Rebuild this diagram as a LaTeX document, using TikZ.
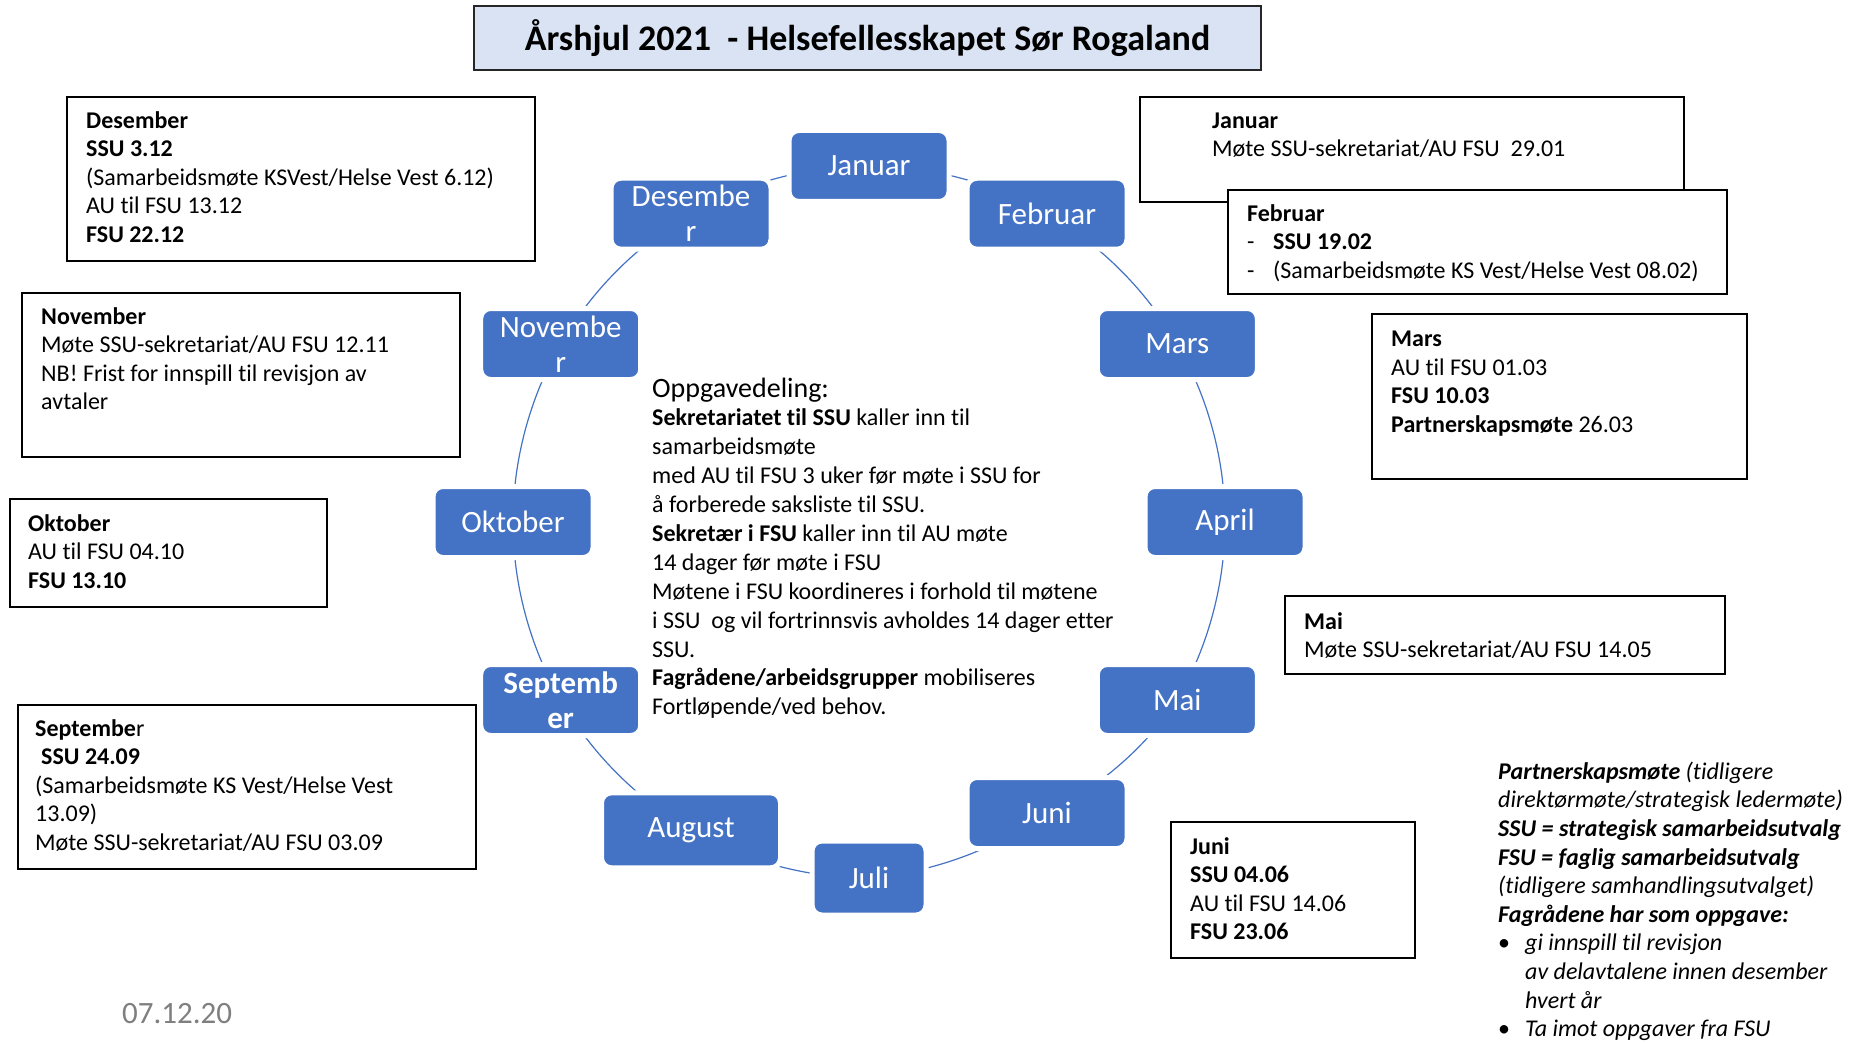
\documentclass[tikz,border=0pt]{standalone}
\usepackage{fontspec}
\setmainfont[Ligatures=NoCommon]{Carlito}
\definecolor{mblue}{HTML}{4472C4}
\definecolor{tblue}{HTML}{DAE3F3}
\definecolor{dategray}{HTML}{7F7F7F}
\newcommand\fst{\rule{0pt}{20pt}}
\pgfdeclarelayer{background}
\pgfsetlayers{background,main}
\begin{document}
\begin{tikzpicture}[x=1pt,y=-1pt,
  month/.style={rectangle, rounded corners=10pt, fill=mblue, draw=white, line width=5pt, text=white,
    minimum width=160pt, minimum height=71pt, inner sep=0pt, align=center,
    font=\fontsize{31}{35}\selectfont},
  infobox/.style={draw=black, line width=2.2pt, fill=white, inner sep=0pt, anchor=north west},
  txt/.style={anchor=north west, inner sep=0pt, align=left, font=\fontsize{24}{28.5}\selectfont},
  link/.style={draw=mblue, line width=1.2pt, looseness=0.86}]
\useasboundingbox (0,0) rectangle (1852,1043);

% title
\node[draw=black!85, line width=2.5pt, fill=tblue, minimum width=787pt, minimum height=64pt,
  inner sep=0pt, font=\fontsize{36}{40}\selectfont\bfseries] (title) at (867.5,38)
  {Årshjul 2021\ \ - Helsefellesskapet Sør Rogaland};

% months
\node[month] (jan) at (869,166) {Januar};
\node[month] (feb) at (1047,213.7) {Februar};
\node[month] (mar) at (1177.3,344) {Mars};
\node[month] (apr) at (1225,522) {April};
\node[month] (mai) at (1177.3,700) {Mai};
\node[month] (jun) at (1047,813) {Juni};
\node[month, minimum width=114pt, minimum height=74pt] (jul) at (869,878) {Juli};
\node[month, minimum width=179pt, minimum height=75pt] (aug) at (691,830.3) {August};
\node[month, font=\fontsize{31}{35}\selectfont\bfseries] (sep) at (560.7,700) {Septemb\\er};
\node[month] (okt) at (513,522) {Oktober};
\node[month] (nov) at (560.7,344) {Novembe\\r};
\node[month] (des) at (691,213.7) {Desembe\\r};

\begin{pgfonlayer}{background}
\fill[white] (0,0) rectangle (1852,1043);
\foreach \a/\b in {jan/feb,feb/mar,mar/apr,apr/mai,mai/jun,jun/jul,jul/aug,aug/sep,sep/okt,okt/nov,nov/des,des/jan}
  \draw[link] (\a.center) to[bend left=15] (\b.center);
\end{pgfonlayer}

% center text
\node[anchor=base west, inner sep=0pt, font=\fontsize{28}{32}\selectfont] (opp) at (652,397) {Oppgavedeling:};
\node[txt, font=\fontsize{24}{28.9}\selectfont] (body) at (652,405.6) {\fst\textbf{Sekretariatet til SSU} kaller inn til\\
samarbeidsmøte\\
med AU til FSU 3 uker før møte i SSU for\\
å forberede saksliste til SSU.\\
\textbf{Sekretær i FSU} kaller inn til AU møte\\
14 dager før møte i FSU\\
Møtene i FSU koordineres i forhold til møtene\\
i SSU\ \ og vil fortrinnsvis avholdes 14 dager etter\\
SSU.\\
\textbf{Fagrådene/arbeidsgrupper} mobiliseres\\
Fortløpende/ved behov.};

% info boxes left
\node[infobox, minimum width=468pt, minimum height=164pt] (bdes) at (66,96) {};
\node[txt] (tdes) at (86,108) {\fst\textbf{Desember}\\ \textbf{SSU 3.12}\\ (Samarbeidsmøte KSVest/Helse Vest 6.12)\\ AU til FSU 13.12\\ \textbf{FSU 22.12}};

\node[infobox, minimum width=438pt, minimum height=164pt] (bnov) at (21,292) {};
\node[txt] (tnov) at (41,304) {\fst\textbf{November}\\ Møte SSU-sekretariat/AU FSU 12.11\\ NB! Frist for innspill til revisjon av\\ avtaler};

\node[infobox, minimum width=317pt, minimum height=108pt] (bokt) at (9,498) {};
\node[txt] (tokt) at (28,511) {\fst\textbf{Oktober}\\ AU til FSU 04.10\\ \textbf{FSU 13.10}};

\node[infobox, minimum width=458pt, minimum height=164pt] (bsep) at (17,704) {};
\node[txt] (tsep) at (35,716) {\fst\textbf{Septembe}r\\ \hspace*{6pt}\textbf{SSU 24.09}\\ (Samarbeidsmøte KS Vest/Helse Vest\\ 13.09)\\ Møte SSU-sekretariat/AU FSU 03.09};

% info boxes right
\node[infobox, minimum width=544pt, minimum height=105pt] (bjan) at (1139,96) {};
\node[txt] (tjan) at (1212,108) {\fst\textbf{Januar}\\ Møte SSU-sekretariat/AU FSU\ \ 29.01};

\node[infobox, minimum width=499pt, minimum height=104pt] (bfeb) at (1227,189) {};
\node[txt] (tfeb) at (1247,201) {\fst\textbf{Februar}\\ \makebox[26pt][l]{-}\textbf{SSU 19.02}\\ \makebox[26pt][l]{-}(Samarbeidsmøte KS Vest/Helse Vest 08.02)};

\node[infobox, minimum width=375pt, minimum height=165pt] (bmar) at (1371,313) {};
\node[txt] (tmar) at (1391,326.5) {\fst\textbf{Mars}\\ AU til FSU 01.03\\ \textbf{FSU 10.03}\\ \textbf{Partnerskapsmøte} 26.03};

\node[infobox, minimum width=440pt, minimum height=78pt] (bmai) at (1284,595) {};
\node[txt] (tmai) at (1304,609) {\fst\textbf{Mai}\\ Møte SSU-sekretariat/AU FSU 14.05};

\node[infobox, minimum width=244pt, minimum height=136pt] (bjun) at (1170,821) {};
\node[txt] (tjun) at (1190,834) {\fst\textbf{Juni}\\ \textbf{SSU 04.06}\\ AU til FSU 14.06\\ \textbf{FSU 23.06}};

% legend
\node[txt, font=\fontsize{24}{28.6}\selectfont\itshape] (legend) at (1498,759) {\fst\textbf{Partnerskapsmøte} (tidligere\\
direktørmøte/strategisk ledermøte)\\
\textbf{SSU = strategisk samarbeidsutvalg}\\
\textbf{FSU = faglig samarbeidsutvalg}\\
(tidligere samhandlingsutvalget)\\
\textbf{Fagrådene har som oppgave:}\\
\makebox[27pt][l]{\upshape•}gi innspill til revisjon\\
\hspace*{27pt}av delavtalene innen desember\\
\hspace*{27pt}hvert år\\
\makebox[27pt][l]{\upshape•}Ta imot oppgaver fra FSU};

% date
\node[anchor=base west, inner sep=0pt, text=dategray, font=\fontsize{31}{35}\selectfont] (date) at (122,1023) {07.12.20};
\end{tikzpicture}
\end{document}
